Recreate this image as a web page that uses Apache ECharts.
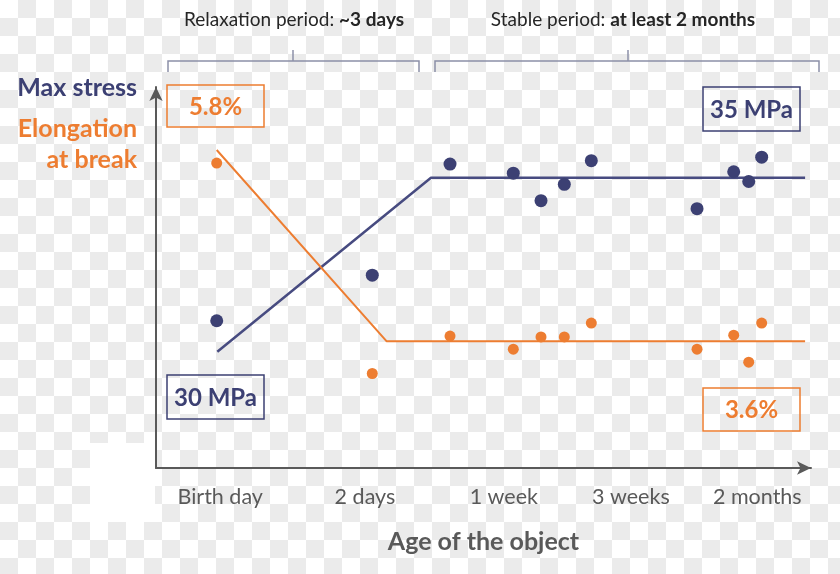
<!DOCTYPE html>
<html>
<head>
<meta charset="utf-8">
<script src="https://cdn.jsdelivr.net/npm/echarts@6/dist/echarts.min.js"></script>
<style>
html,body{margin:0;padding:0;}
body{width:840px;height:574px;background:repeating-conic-gradient(#ebebeb 0 25%, #ffffff 0 50%) 0 0/36px 36px;}
#chart{width:840px;height:574px;}
</style>
</head>
<body>
<div id="chart"></div>
<script>
// ---- data ----
var tickLabels = ['Birth day', '2 days', '1 week', '3 weeks', '2 months'];
var tickPos = [9.8, 31.9, 53.1, 72.5, 91.8];           // position of each age label on the age scale
var sampleAge = [9.27, 33.02, 44.89, 54.55, 58.78, 62.34, 66.46, 82.60, 88.20, 90.49, 92.47];
var maxStress = [30.89, 32.20, 35.39, 35.13, 34.34, 34.81, 35.49, 34.11, 35.17, 34.89, 35.59]; // MPa
var elongation = [5.65, 3.23, 3.66, 3.51, 3.65, 3.65, 3.81, 3.51, 3.67, 3.36, 3.81];          // %
var stressTrendAge = [9.36, 41.98, 99.1];
var stressTrend = [30, 35, 35];
var elongTrendAge = [9.27, 35.22, 99.1];
var elongTrend = [5.8, 3.6, 3.6];

var NAVY = '#3c4073', NAVY_LINE = '#474b80', ORANGE = '#ed7d31', GREY = '#595959';
var FONT = 'Lato, "Open Sans", sans-serif';

function zip(xs, ys) { return xs.map(function (x, i) { return [x, ys[i]]; }); }

var chart = echarts.init(document.getElementById('chart'), null, { renderer: 'canvas' });

function box(x, y, w, h, color, text) {
  return {
    type: 'group', children: [
      { type: 'rect', shape: { x: x, y: y, width: w, height: h },
        style: { fill: 'rgba(255,255,255,0)', stroke: color, lineWidth: 1.5 } },
      { type: 'text', x: x + w / 2, y: y + h / 2 + 1,
        style: { text: text, fill: color, font: 'bold 24px ' + FONT, align: 'center', verticalAlign: 'middle' } }
    ]
  };
}

var bracketColor = '#8c90a8';
var option = {
  backgroundColor: 'transparent',
  animation: false,
  grid: { left: 156, right: 29, top: 87, bottom: 106 },
  xAxis: {
    type: 'value', min: 0, max: 100,
    axisLine: { show: true, symbol: ['none', 'arrow'], symbolSize: [10, 14],
      lineStyle: { color: GREY, width: 2 } },
    axisTick: { show: false },
    splitLine: { show: false },
    axisLabel: {
      customValues: tickPos,
      formatter: function (v) {
        var i = tickPos.indexOf(v);
        return i >= 0 ? tickLabels[i] : '';
      },
      color: GREY, fontSize: 21.5, fontFamily: FONT, margin: 18
    },
    name: 'Age of the object', nameLocation: 'middle', nameGap: 61,
    nameTextStyle: { color: GREY, fontSize: 25, fontWeight: 'bold', fontFamily: FONT }
  },
  yAxis: [{
    type: 'value', min: 26.658, max: 37.606,
    axisLine: { show: true, symbol: ['none', 'arrow'], symbolSize: [10, 14],
      lineStyle: { color: GREY, width: 2 } },
    axisTick: { show: false }, axisLabel: { show: false }, splitLine: { show: false }
  }, {
    type: 'value', min: 2.143, max: 6.525, show: false,
    splitLine: { show: false }
  }],
  series: [{
    type: 'line', yAxisIndex: 0, data: zip(stressTrendAge, stressTrend), symbol: 'none',
    lineStyle: { color: NAVY_LINE, width: 2.5 }, z: 2
  }, {
    type: 'line', yAxisIndex: 1, data: zip(elongTrendAge, elongTrend), symbol: 'none',
    lineStyle: { color: ORANGE, width: 2 }, z: 2
  }, {
    type: 'scatter', yAxisIndex: 0, data: zip(sampleAge, maxStress), symbolSize: 13,
    itemStyle: { color: NAVY, opacity: 1 }, z: 3
  }, {
    type: 'scatter', yAxisIndex: 1, data: zip(sampleAge, elongation), symbolSize: 11,
    itemStyle: { color: ORANGE, opacity: 1 }, z: 3
  }],
  graphic: [
    { type: 'rect', z: -10, shape: { x: 90, y: 443, width: 65, height: 79 }, style: { fill: '#ffffff' } },
    { type: 'text', x: 294, y: 20, style: {
        text: '{n|Relaxation period: }{b|~3 days}', align: 'center', verticalAlign: 'middle',
        rich: { n: { font: '19px ' + FONT, fill: '#262626' }, b: { font: 'bold 19px ' + FONT, fill: '#262626' } } } },
    { type: 'text', x: 623, y: 20, style: {
        text: '{n|Stable period: }{b|at least 2 months}', align: 'center', verticalAlign: 'middle',
        rich: { n: { font: '19px ' + FONT, fill: '#262626' }, b: { font: 'bold 19px ' + FONT, fill: '#262626' } } } },
    { type: 'polyline', shape: { points: [[168, 72], [168, 61], [419, 61], [419, 72]] },
      style: { stroke: bracketColor, lineWidth: 1.5, fill: null } },
    { type: 'line', shape: { x1: 293, y1: 50, x2: 293, y2: 61 }, style: { stroke: bracketColor, lineWidth: 1.5 } },
    { type: 'polyline', shape: { points: [[435, 72], [435, 61], [819, 61], [819, 72]] },
      style: { stroke: bracketColor, lineWidth: 1.5, fill: null } },
    { type: 'line', shape: { x1: 628, y1: 50, x2: 628, y2: 61 }, style: { stroke: bracketColor, lineWidth: 1.5 } },
    { type: 'text', x: 137, y: 88, style: { text: 'Max stress', fill: NAVY, font: 'bold 25px ' + FONT, align: 'right', verticalAlign: 'middle' } },
    { type: 'text', x: 137, y: 129, style: { text: 'Elongation', fill: ORANGE, font: 'bold 25px ' + FONT, align: 'right', verticalAlign: 'middle' } },
    { type: 'text', x: 137, y: 160, style: { text: 'at break', fill: ORANGE, font: 'bold 25px ' + FONT, align: 'right', verticalAlign: 'middle' } },
    box(167, 85, 97, 42, ORANGE, '5.8%'),
    box(703, 87, 97, 44, NAVY, '35 MPa'),
    box(167, 375, 97, 44, NAVY, '30 MPa'),
    box(703, 388, 97, 43, ORANGE, '3.6%')
  ]
};
chart.setOption(option);
</script>
</body>
</html>
